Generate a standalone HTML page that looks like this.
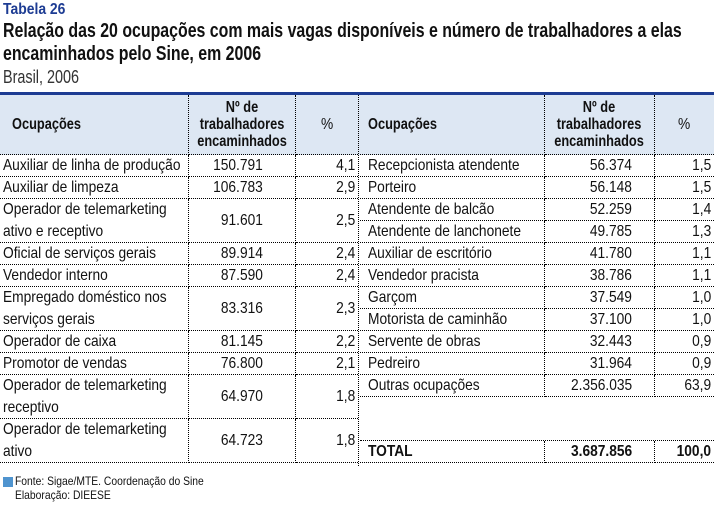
<!DOCTYPE html>
<html><head><meta charset="utf-8">
<style>
body{margin:0;width:714px;height:512px;background:#fff;position:relative;overflow:hidden;font-family:"Liberation Sans Narrow","Liberation Sans",sans-serif;color:#111}
.a{position:absolute;white-space:nowrap;transform-origin:0 0}
.c{position:absolute;box-sizing:border-box;display:flex;align-items:center;font-size:16px;line-height:22px;white-space:nowrap}
.c span{display:inline-block;transform:scaleX(0.86);transform-origin:left center}
.c.r span{transform-origin:right center}
.c.m span{transform-origin:center center}
.c.hb span{transform:scaleX(0.8)}
.h{font-weight:bold;font-size:15px;line-height:17px;text-align:center;justify-content:center}
</style></head><body>
<div class="a" style="left:3px;top:1px;font-size:16px;font-weight:bold;color:#1d3c93;transform:scaleX(0.87)">Tabela 26</div>
<div class="a" style="left:3px;top:20px;font-size:20px;font-weight:bold;line-height:23px;transform:scaleX(0.795)">Relação das 20 ocupações com mais vagas disponíveis e número de trabalhadores a elas<br>encaminhados pelo Sine, em 2006</div>
<div class="a" style="left:3px;top:67px;font-size:18px;color:#333;transform:scaleX(0.8)">Brasil, 2006</div>
<div class="a" style="left:0;top:94px;width:714px;height:61px;background:#dde7f3"></div>
<div class="a" style="left:0;top:92px;width:714px;height:3px;background:#1d3c93"></div>
<div class="a" style="left:358px;top:95px;width:0;height:371px;border-left:1px dotted #000"></div>
<div id="t"></div>
<div class="a" style="left:3px;top:477px;width:10px;height:10px;background:#4f94cf"></div>
<div class="a" style="left:15px;top:474px;font-size:12px;line-height:14px;transform:scaleX(0.86)">Fonte: Sigae/MTE. Coordenação do Sine<br>Elaboração: DIEESE</div>
<script>
const leftNames=["Auxiliar de linha de produção","Auxiliar de limpeza","Operador de telemarketing<br>ativo e receptivo","Oficial de serviços gerais","Vendedor interno","Empregado doméstico nos<br>serviços gerais","Operador de caixa","Promotor de vendas","Operador de telemarketing<br>receptivo","Operador de telemarketing<br>ativo"];
const leftValues=["150.791","106.783","91.601","89.914","87.590","83.316","81.145","76.800","64.970","64.723"];
const leftPct=["4,1","2,9","2,5","2,4","2,4","2,3","2,2","2,1","1,8","1,8"];
const rightNames=["Recepcionista atendente","Porteiro","Atendente de balcão","Atendente de lanchonete","Auxiliar de escritório","Vendedor pracista","Garçom","Motorista de caminhão","Servente de obras","Pedreiro","Outras ocupações","","TOTAL"];
const rightValues=["56.374","56.148","52.259","49.785","41.780","38.786","37.549","37.100","32.443","31.964","2.356.035","","3.687.856"];
const rightPct=["1,5","1,5","1,4","1,3","1,1","1,1","1,0","1,0","0,9","0,9","63,9","","100,0"];
const T=document.getElementById('t');
function cell(x,y,w,h,html,style,name,cls){
 const d=document.createElement('div');
 d.className='c'+(cls?' '+cls:'');
 d.style.cssText=`left:${x}px;top:${y}px;width:${w}px;height:${h}px;`+style;
 d.innerHTML=html===''?'':'<span>'+html+'</span>';
 
 
 T.appendChild(d);return d;}
const dot='border-bottom:1px dotted #000;';
[[0,358],[360,714]].forEach((s,k)=>{
 const x=s[0];const c1=k?545:189,c2=k?655:296;
 cell(x,95,c1-x,60,'Ocupações','font-weight:bold;font-size:16px;padding-left:'+(k?8:12)+'px;border-right:1px dotted #000;'+dot,'header-occupations','hb');
 cell(c1,95,c2-c1,60,'Nº de<br>trabalhadores<br>encaminhados','font-size:16px;border-right:1px dotted #000;'+dot,'header-workers','h m hb');
 cell(c2,95,s[1]-c2,60,'%',dot+'justify-content:center;font-size:16px','header-percent','m');
});
let y=155;
leftNames.forEach((n,i)=>{
 const h=n.includes('<br>')?44:22;
 cell(0,y,189,h,n,'padding-left:3px;border-right:1px dotted #000;'+dot,'left-occupation-name');
 cell(189,y,107,h,leftValues[i],'justify-content:flex-end;padding-right:32px;border-right:1px dotted #000;'+dot,'left-workers-value','r');
 cell(296,y,62,h,leftPct[i],'justify-content:flex-end;padding-right:3px;'+dot,'left-percent-value','r');
 y+=h;
});
y=155;
rightNames.forEach((n,i)=>{
 const h=n===''?44:22;const b=n==='TOTAL'?'font-weight:bold;':'';
 if(n===''){cell(360,y,354,h,'',dot,'empty-row');y+=h;return;}
 cell(360,y,185,h,n,b+'padding-left:8px;border-right:1px dotted #000;'+dot,'right-occupation-name');
 cell(545,y,110,h,rightValues[i],b+'justify-content:flex-end;padding-right:22px;border-right:1px dotted #000;'+dot,'right-workers-value','r');
 cell(655,y,59,h,rightPct[i],b+'justify-content:flex-end;padding-right:3px;'+dot,'right-percent-value','r');
 y+=h;
});
</script>
</body></html>
